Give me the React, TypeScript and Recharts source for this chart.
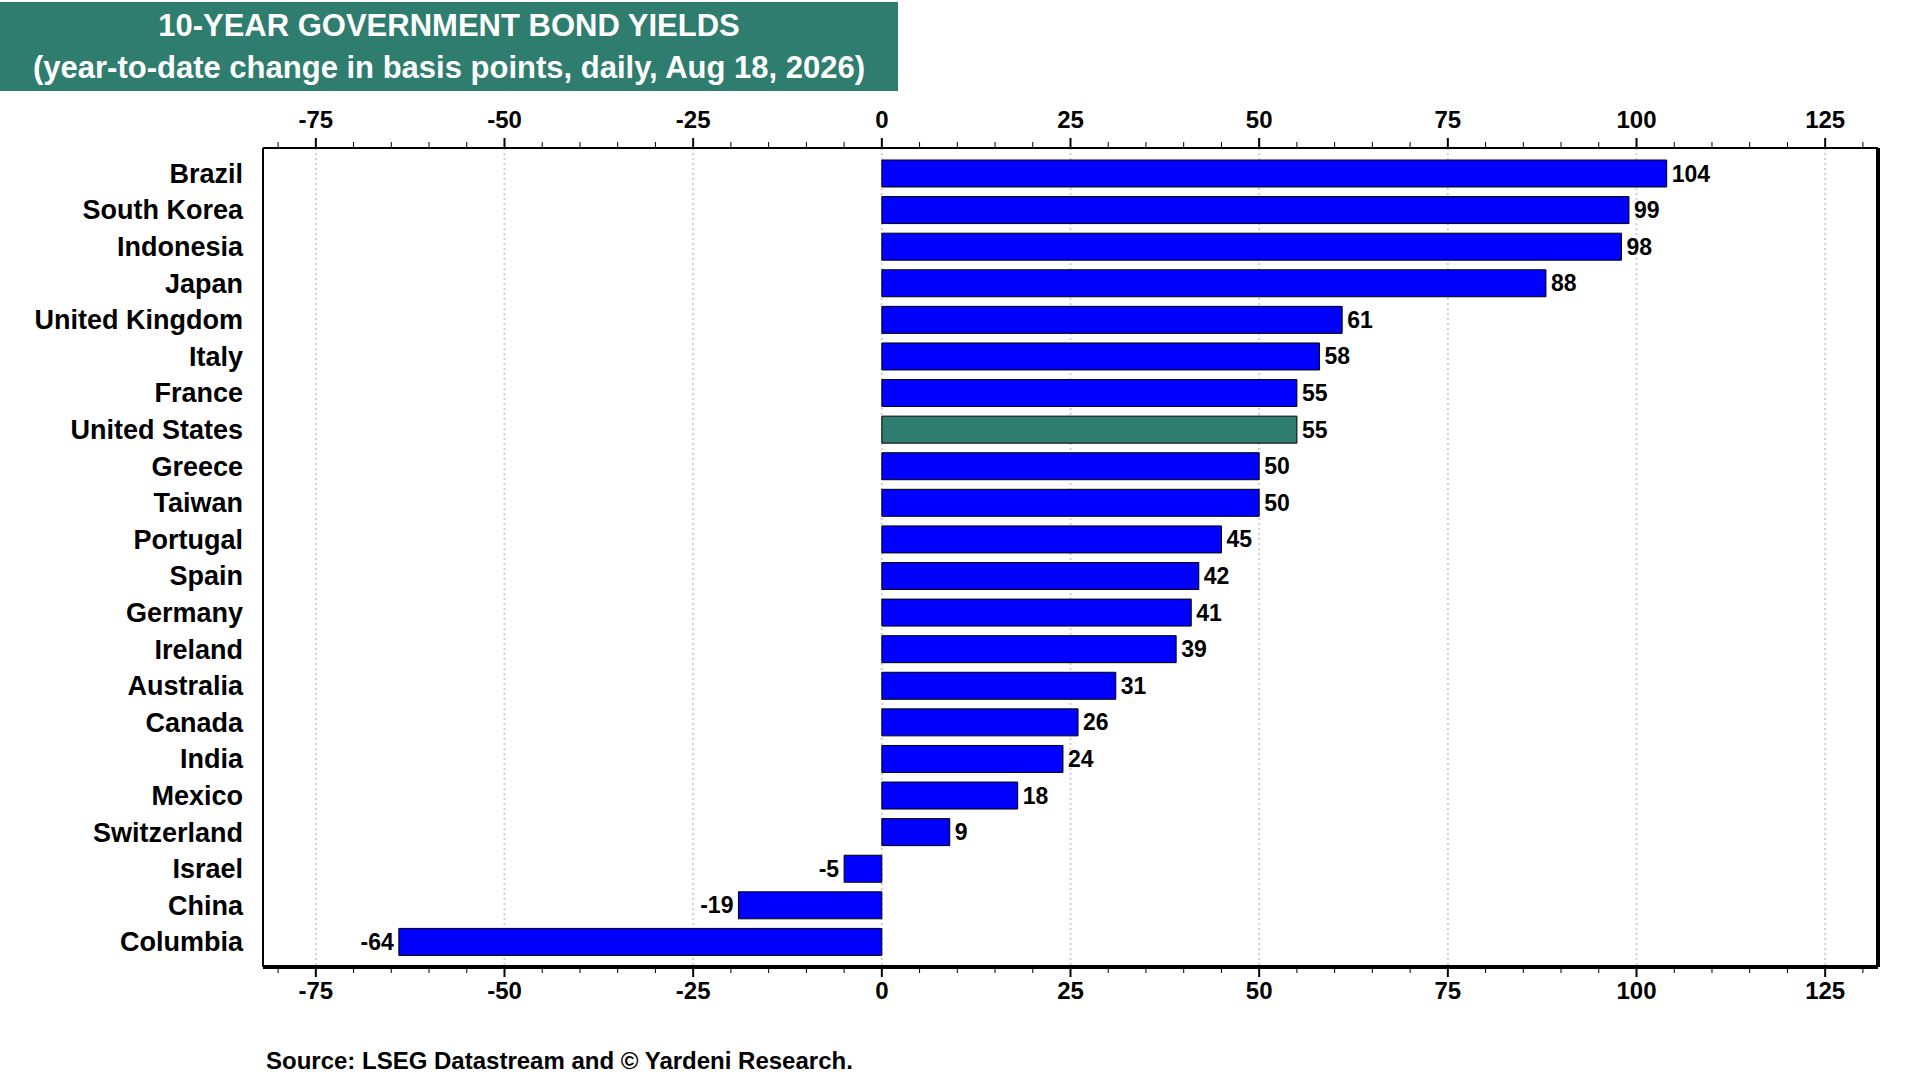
import { BarChart, Bar, XAxis, YAxis, Cell, LabelList, CartesianGrid } from "recharts";

const COUNTRIES = [
  "Brazil", "South Korea", "Indonesia", "Japan", "United Kingdom", "Italy", "France",
  "United States", "Greece", "Taiwan", "Portugal", "Spain", "Germany", "Ireland",
  "Australia", "Canada", "India", "Mexico", "Switzerland", "Israel", "China", "Columbia",
];
const CHANGES = [104, 99, 98, 88, 61, 58, 55, 55, 50, 50, 45, 42, 41, 39, 31, 26, 24, 18, 9, -5, -19, -64];
const MAJOR_TICKS = [-75, -50, -25, 0, 25, 50, 75, 100, 125];
const MINOR_TICKS = [-80, -75, -70, -65, -60, -55, -50, -45, -40, -35, -30, -25, -20, -15, -10, -5, 0, 5, 10, 15, 20, 25, 30, 35, 40, 45, 50, 55, 60, 65, 70, 75, 80, 85, 90, 95, 100, 105, 110, 115, 120, 125, 130];
const HIGHLIGHT = "United States";
const DOMAIN: [number, number] = [-82, 132];

const TEAL = "#2e7d6f";
const FONT = "Arial, 'Liberation Sans', sans-serif";

const data = COUNTRIES.map((name, i) => ({ name, value: CHANGES[i] }));

function makeTick(dir: 1 | -1) {
  return (props: any) => {
    const { x, y, payload } = props;
    const major = payload.value % 25 === 0;
    const len = major ? 10 : 6;
    return (
      <g>
        <line x1={x} x2={x} y1={dir > 0 ? y - 8 : y + 8} y2={dir > 0 ? y - 8 + len : y + 8 - len} stroke="#000" strokeWidth={major ? 2 : 1} />
        {major && (
          <text x={x} y={dir > 0 ? y + 24 : y - 12} textAnchor="middle" fontSize={24} fontWeight="bold" fontFamily={FONT} fill="#000">
            {payload.value}
          </text>
        )}
      </g>
    );
  };
}

const ValueLabel = (props: any) => {
  const { x, y, width, height, value } = props;
  const neg = value < 0;
  const end = x + width;
  return (
    <text
      x={neg ? Math.min(x, end) - 5 : Math.max(x, end) + 5}
      y={y + height / 2 + 8}
      textAnchor={neg ? "end" : "start"}
      fontSize={23}
      fontWeight="bold"
      fontFamily={FONT}
      fill="#000"
    >
      {value}
    </text>
  );
};

const gridX = ({ offset }: any) =>
  MAJOR_TICKS.map((t) => offset.left + ((t - DOMAIN[0]) / (DOMAIN[1] - DOMAIN[0])) * offset.width);

export default function App() {
  return (
    <div style={{ position: "absolute", left: 0, top: 0, width: 1920, height: 1080, background: "#fff", fontFamily: FONT }}>
      <div
        style={{
          position: "absolute", left: 0, top: 2, width: 898, height: 89, background: TEAL, color: "#fff",
          fontWeight: "bold", fontSize: 31, textAlign: "center", lineHeight: "42px", paddingTop: 3, boxSizing: "border-box",
        }}
      >
        10-YEAR GOVERNMENT BOND YIELDS
        <br />
        (year-to-date change in basis points, daily, Aug 18, 2026)
      </div>
      <BarChart
        width={1920}
        height={1080}
        data={data}
        layout="vertical"
        barSize={27}
        margin={{ top: 118, right: 40, bottom: 83, left: 23 }}
      >
        <CartesianGrid horizontal={false} verticalCoordinatesGenerator={gridX} stroke="#d0d0d0" strokeWidth={2} strokeDasharray="2 3" xAxisId="bottom" yAxisId="left" />
        <XAxis xAxisId="top" orientation="top" type="number" domain={DOMAIN} ticks={MINOR_TICKS} height={30}
          axisLine={{ stroke: "#000", strokeWidth: 2 }} tickLine={false} tick={makeTick(-1)} allowDataOverflow />
        <XAxis xAxisId="bottom" orientation="bottom" type="number" domain={DOMAIN} ticks={MINOR_TICKS} height={30}
          axisLine={{ stroke: "#000", strokeWidth: 4 }} tickLine={false} tick={makeTick(1)} allowDataOverflow />
        <YAxis yAxisId="left" type="category" dataKey="name" width={240} axisLine={{ stroke: "#000", strokeWidth: 2 }}
          tickLine={false} tickMargin={14} padding={{ top: 7, bottom: 7 }}
          tick={{ fontSize: 27, fontWeight: "bold", fill: "#000", fontFamily: FONT }} interval={0} />
        <YAxis yAxisId="right" orientation="right" type="category" dataKey="name" width={2} tick={false} tickLine={false}
          axisLine={{ stroke: "#000", strokeWidth: 4 }} />
        <Bar dataKey="value" xAxisId="bottom" yAxisId="left" stroke="#000" strokeWidth={1} isAnimationActive={false}>
          {data.map((d) => (
            <Cell key={d.name} fill={d.name === HIGHLIGHT ? TEAL : "#0000ff"} />
          ))}
          <LabelList dataKey="value" content={ValueLabel} />
        </Bar>
      </BarChart>
      <div style={{ position: "absolute", left: 266, top: 1047, fontSize: 24, fontWeight: "bold", color: "#000" }}>
        Source: LSEG Datastream and © Yardeni Research.
      </div>
    </div>
  );
}
